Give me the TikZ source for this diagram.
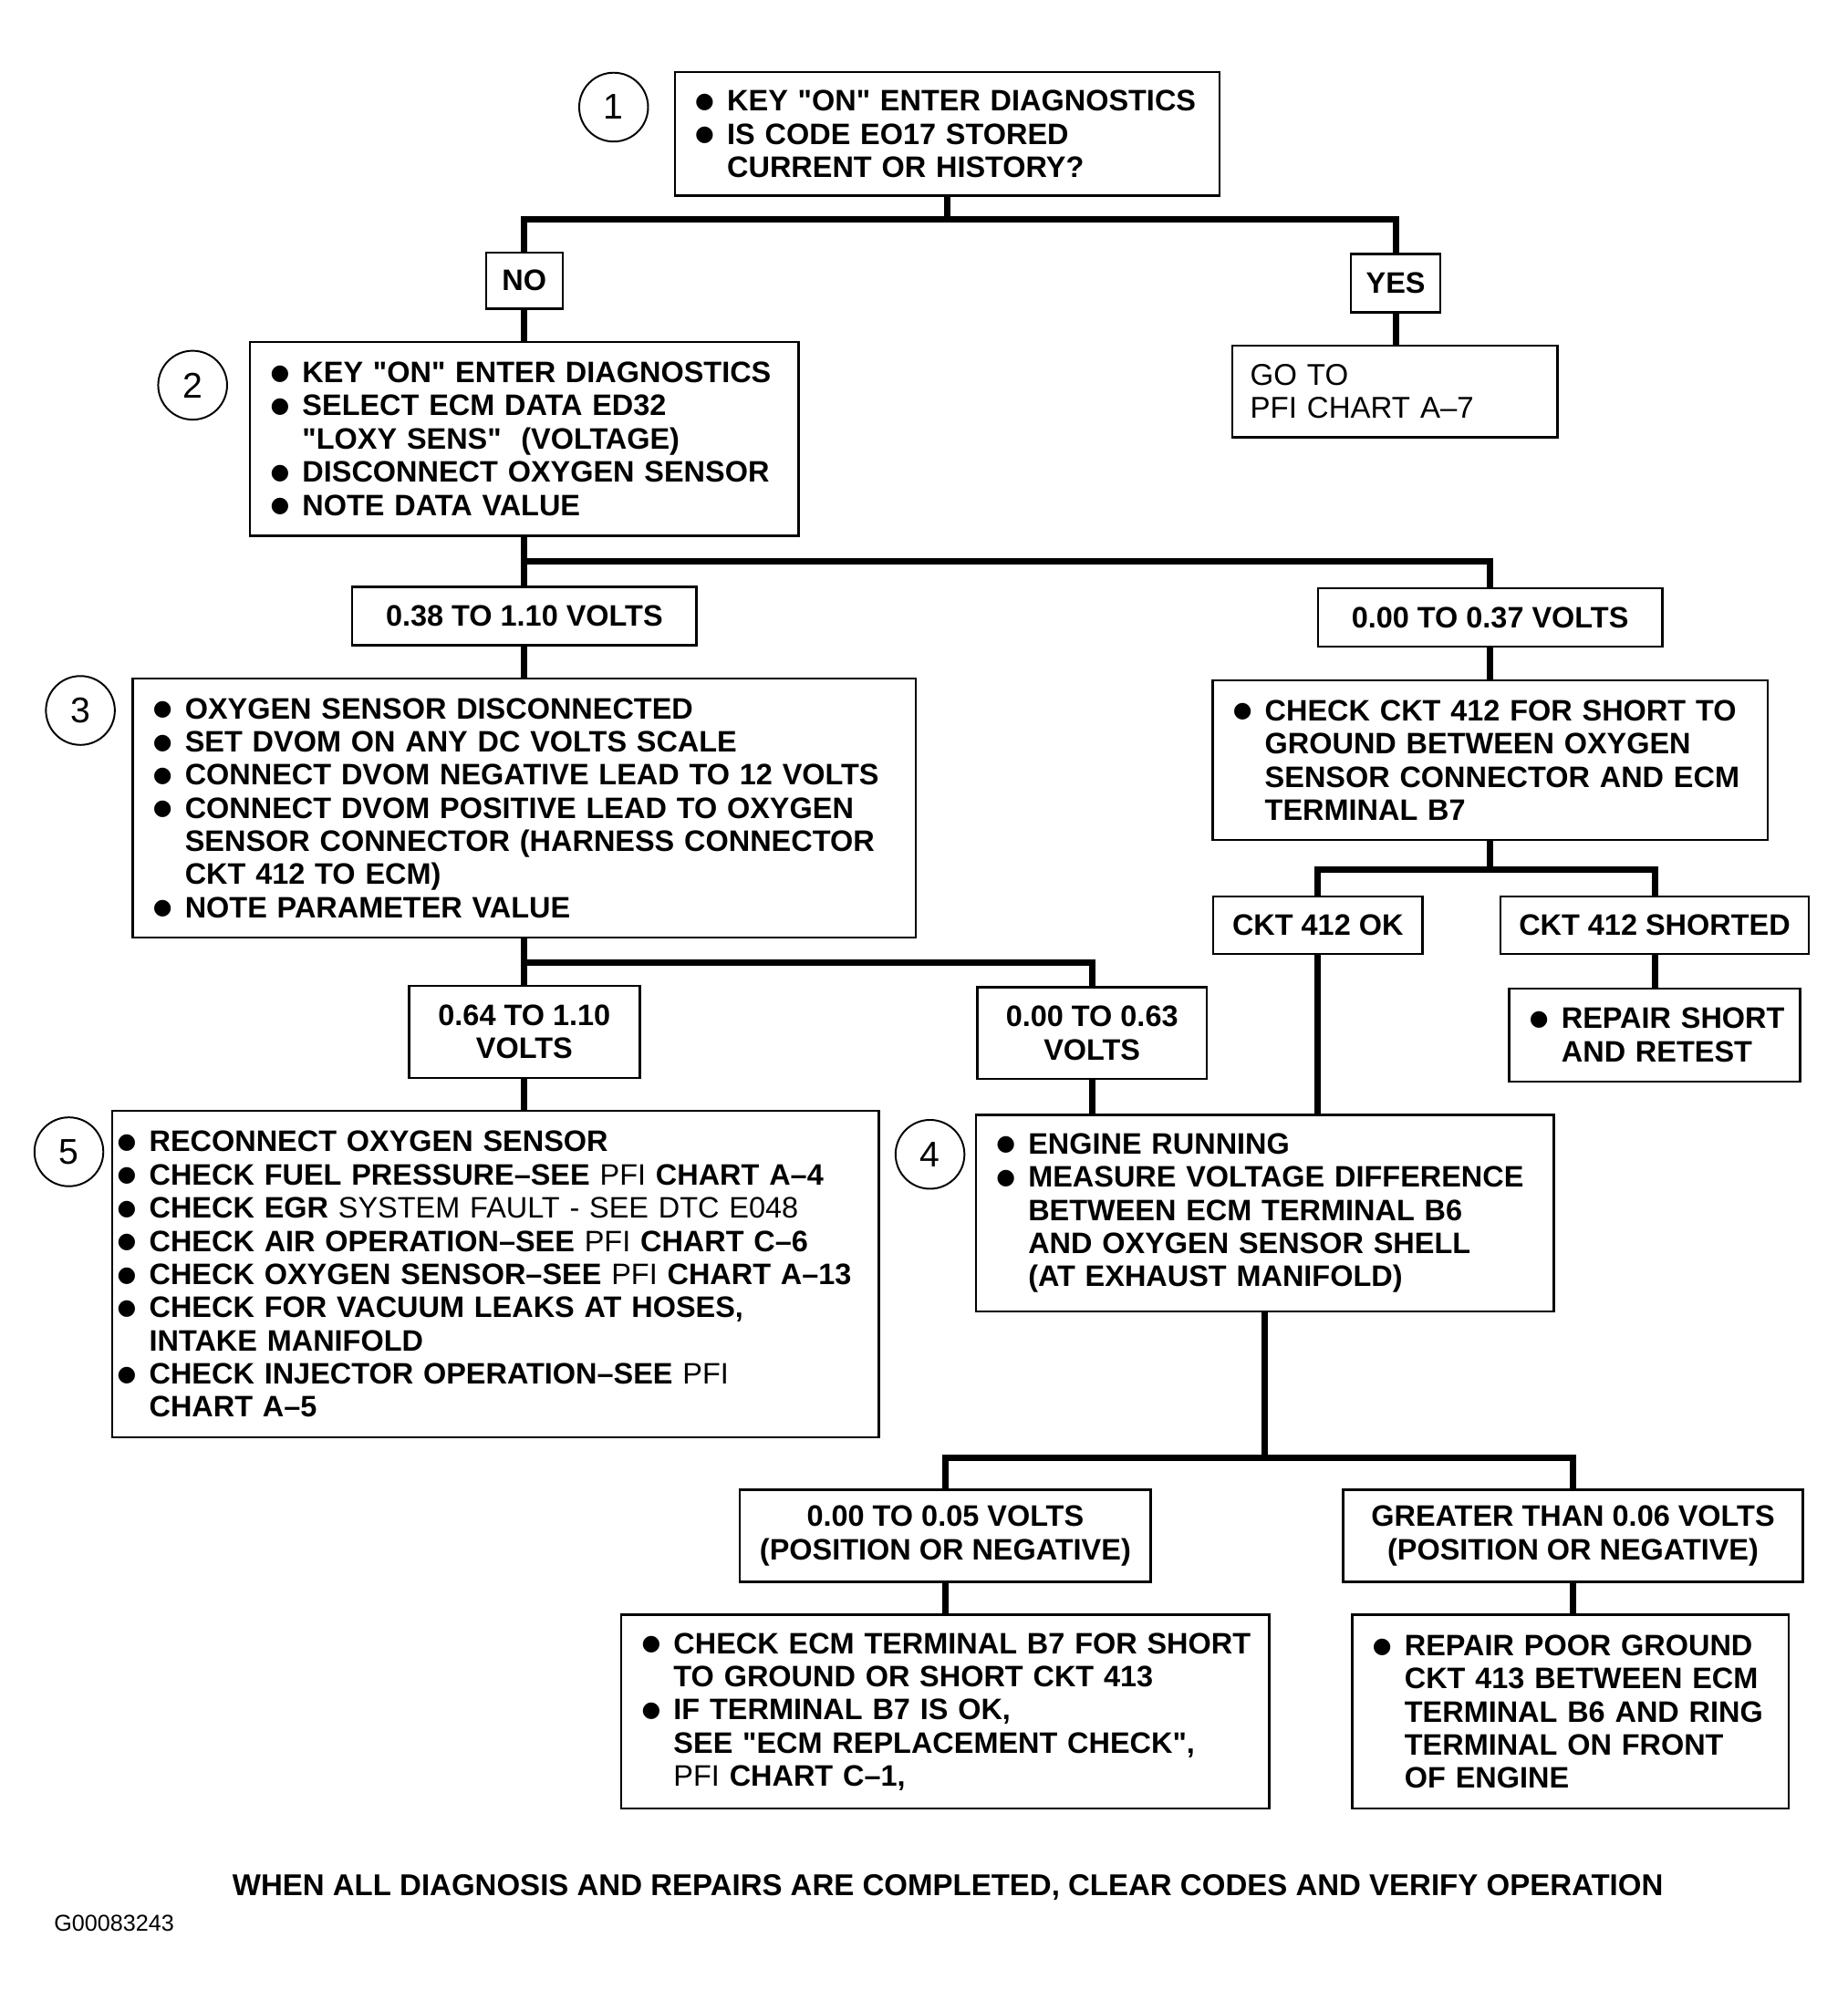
\documentclass[tikz,border=0pt]{standalone}
\usepackage{fontspec}
\setmainfont{Liberation Sans}[Ligatures=TeXOff]
\newfontfamily\dejavu{DejaVu Sans}
\newcommand\bitem[1]{\leavevmode\llap{\makebox[12.5pt][l]{\raisebox{1.2pt}{\dejavu\fontsize{8.5}{8.5}\selectfont ●}}}\mbox{#1}\par}
\newcommand\citem[1]{\leavevmode\mbox{#1}\par}
\newcommand\lsk{\leftskip=12.5pt\relax\parindent=0pt\relax}
\newcommand\rg[1]{{\mdseries #1}}
\tikzset{
  box/.style={draw, line width=0.9pt, rectangle, inner xsep=8pt, inner ysep=0pt, align=left, font=\fontsize{11.6}{13}\selectfont\bfseries},
  lab/.style={draw, line width=0.9pt, rectangle, inner sep=0pt, align=center, font=\fontsize{11.6}{13}\selectfont\bfseries},
  circ/.style={draw, circle, line width=0.7pt, minimum size=27pt, inner sep=0pt, font=\fontsize{14}{14}\selectfont},
  conn/.style={line width=2.5pt},
}
\begin{document}
\begin{tikzpicture}[x=0.5pt,y=-0.5pt]
\fill[white] (0,0) rectangle (1448,1568);
\useasboundingbox (0,0) rectangle (1448,1568);

% step 1
\node[circ] (c1) at (481,84) {1};
\node[box, minimum width=213.5pt, minimum height=48.5pt, text width=197.5pt] (b1) at (742.5,105) {\lsk
\bitem{KEY "ON" ENTER DIAGNOSTICS}
\bitem{IS CODE EO17 STORED}
\citem{CURRENT OR HISTORY?}};

\node[lab, minimum width=30pt, minimum height=22pt] (no) at (411,220) {NO};
\node[lab, minimum width=35pt, minimum height=23pt] (yes) at (1094,222) {YES};

% step 2
\node[circ] (c2) at (151,302) {2};
\node[box, minimum width=215pt, minimum height=76pt, text width=199pt] (b2) at (411,344) {\lsk
\bitem{KEY "ON" ENTER DIAGNOSTICS}
\bitem{SELECT ECM DATA ED32}
\citem{"LOXY SENS" \ (VOLTAGE)}
\bitem{DISCONNECT OXYGEN SENSOR}
\bitem{NOTE DATA VALUE}};

\node[box, inner xsep=7pt, minimum width=127.5pt, minimum height=36pt, text width=113.5pt, font=\fontsize{11.8}{13}\selectfont] (goto) at (1093.5,307) {GO TO\par PFI CHART A–7};

\node[lab, minimum width=135pt, minimum height=23pt] (v1) at (411,483) {0.38 TO 1.10 VOLTS};
\node[lab, minimum width=135pt, minimum height=23pt] (v2) at (1168,484) {0.00 TO 0.37 VOLTS};

% step 3
\node[circ] (c3) at (63,557) {3};
\node[box, minimum width=307pt, minimum height=101.5pt, text width=291pt] (b3) at (411,633.5) {\lsk
\bitem{OXYGEN SENSOR DISCONNECTED}
\bitem{SET DVOM ON ANY DC VOLTS SCALE}
\bitem{CONNECT DVOM NEGATIVE LEAD TO 12 VOLTS}
\bitem{CONNECT DVOM POSITIVE LEAD TO OXYGEN}
\citem{SENSOR CONNECTOR (HARNESS CONNECTOR}
\citem{CKT 412 TO ECM)}
\bitem{NOTE PARAMETER VALUE}};

\node[box, minimum width=217.5pt, minimum height=62.5pt, text width=201.5pt] (ckt) at (1168,596) {\lsk
\bitem{CHECK CKT 412 FOR SHORT TO}
\citem{GROUND BETWEEN OXYGEN}
\citem{SENSOR CONNECTOR AND ECM}
\citem{TERMINAL B7}};

\node[lab, minimum width=82pt, minimum height=22.5pt] (ok) at (1033,725.5) {CKT 412 OK};
\node[lab, minimum width=121pt, minimum height=22.5pt] (sh) at (1297,725.5) {CKT 412 SHORTED};

\node[box, minimum width=114pt, minimum height=36.5pt, text width=98pt] (rep) at (1297,811.5) {\lsk
\bitem{REPAIR SHORT}
\citem{AND RETEST}};

\node[lab, minimum width=90.5pt, minimum height=36pt] (v3) at (411,809) {0.64 TO 1.10\\VOLTS};
\node[lab, minimum width=90pt, minimum height=36pt] (v4) at (856,810) {0.00 TO 0.63\\VOLTS};

% step 5
\node[circ] (c5) at (54,903) {5};
\node[box, inner xsep=2pt, minimum width=300.5pt, minimum height=128pt, text width=296.5pt] (b5) at (388.5,999) {\lsk
\bitem{RECONNECT OXYGEN SENSOR}
\bitem{CHECK FUEL PRESSURE–SEE \rg{PFI} CHART A–4}
\bitem{CHECK EGR \rg{SYSTEM FAULT - SEE DTC E048}}
\bitem{CHECK AIR OPERATION–SEE \rg{PFI} CHART C–6}
\bitem{CHECK OXYGEN SENSOR–SEE \rg{PFI} CHART A–13}
\bitem{CHECK FOR VACUUM LEAKS AT HOSES,}
\citem{INTAKE MANIFOLD}
\bitem{CHECK INJECTOR OPERATION–SEE \rg{PFI}}
\citem{CHART A–5}};

% step 4
\node[circ] (c4) at (729,905) {4};
\node[box, minimum width=226.5pt, minimum height=77pt, text width=210.5pt] (b4) at (991.5,951) {\lsk
\bitem{ENGINE RUNNING}
\bitem{MEASURE VOLTAGE DIFFERENCE}
\citem{BETWEEN ECM TERMINAL B6}
\citem{AND OXYGEN SENSOR SHELL}
\citem{(AT EXHAUST MANIFOLD)}};

\node[lab, minimum width=161pt, minimum height=36pt] (v5) at (741,1204) {0.00 TO 0.05 VOLTS\\(POSITION OR NEGATIVE)};
\node[lab, minimum width=180pt, minimum height=36pt] (v6) at (1233,1204) {GREATER THAN 0.06 VOLTS\\(POSITION OR NEGATIVE)};

\node[box, minimum width=254pt, minimum height=76pt, text width=238pt] (b6) at (741,1342) {\lsk
\bitem{CHECK ECM TERMINAL B7 FOR SHORT}
\citem{TO GROUND OR SHORT CKT 413}
\bitem{IF TERMINAL B7 IS OK,}
\citem{SEE "ECM REPLACEMENT CHECK",}
\citem{\rg{PFI} CHART C–1,}};

\node[box, minimum width=171pt, minimum height=76pt, text width=155pt] (b7) at (1231,1342) {\lsk
\bitem{REPAIR POOR GROUND}
\citem{CKT 413 BETWEEN ECM}
\citem{TERMINAL B6 AND RING}
\citem{TERMINAL ON FRONT}
\citem{OF ENGINE}};

\node[font=\fontsize{11.8}{12}\selectfont\bfseries, inner sep=0pt] (foot) at (743,1480) {WHEN ALL DIAGNOSIS AND REPAIRS ARE COMPLETED, CLEAR CODES AND VERIFY OPERATION};
\node[anchor=west, inner sep=0pt, font=\fontsize{9}{10}\selectfont] (gid) at (42,1508) {G00083243};

% connectors
\coordinate (j1) at (742.5,172);
\draw[conn] (b1.south) -- (j1);
\draw[conn] (no.north) |- (j1) -| (yes.north);
\draw[conn] (no.south) -- (b2.north);
\draw[conn] (yes.south) -- (yes.south |- goto.north);
\coordinate (j2) at (411,440);
\draw[conn] (b2.south) -- (v1.north);
\draw[conn] (j2) -| (v2.north);
\draw[conn] (v1.south) -- (b3.north);
\draw[conn] (v2.south) -- (ckt.north);
\coordinate (j3) at (1168,682);
\draw[conn] (ckt.south) -- (j3);
\draw[conn] (ok.north) |- (j3) -| (sh.north);
\draw[conn] (sh.south) -- (rep.north);
\draw[conn] (ok.south) -- (ok.south |- b4.north);
\coordinate (j4) at (411,755);
\draw[conn] (b3.south) -- (v3.north);
\draw[conn] (j4) -| (v4.north);
\draw[conn] (v3.south) -- (v3.south |- b5.north);
\draw[conn] (v4.south) -- (v4.south |- b4.north);
\coordinate (j5) at (991.5,1143);
\draw[conn] (b4.south) -- (j5);
\draw[conn] (v5.north) |- (j5) -| (v6.north);
\draw[conn] (v5.south) -- (b6.north);
\draw[conn] (v6.south) -- (v6.south |- b7.north);
\end{tikzpicture}
\end{document}
